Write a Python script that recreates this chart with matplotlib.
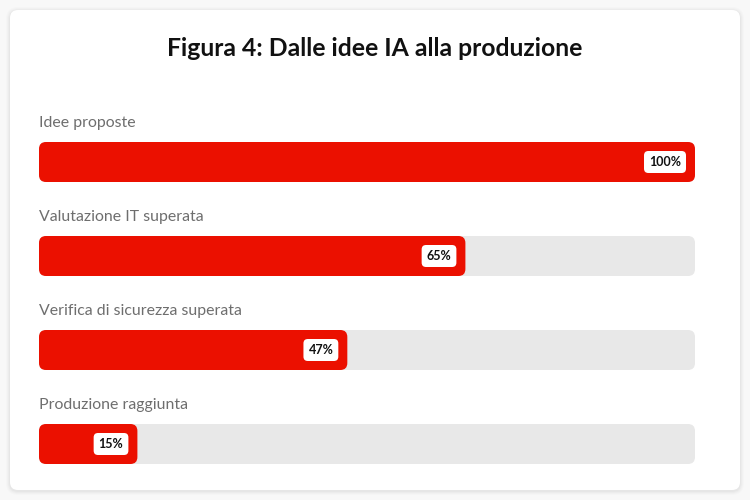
import matplotlib.pyplot as plt
from matplotlib.patches import FancyBboxPatch

categories = ['Idee proposte', 'Valutazione IT superata',
              'Verifica di sicurezza superata', 'Produzione raggiunta']
values = [100, 65, 47, 15]
title = 'Figura 4: Dalle idee IA alla produzione'

red = '#eb1000'
track = '#e8e8e8'
label_col = '#6e6e6e'

plt.rcParams['font.family'] = ['Lato', 'DejaVu Sans']

fig = plt.figure(figsize=(7.5, 5), dpi=100)
fig.patch.set_facecolor('#f8f8f8')

# background card (pixel coords)
bg = fig.add_axes([0, 0, 1, 1])
bg.set_xlim(0, 750)
bg.set_ylim(500, 0)
bg.axis('off')
for i, a in enumerate([0.025, 0.02, 0.015, 0.01]):
    d = i + 1
    bg.add_patch(FancyBboxPatch((10 - d, 10 - d + 1), 730 + 2 * d, 480 + 2 * d,
                                boxstyle='round,pad=0,rounding_size=%d' % (8 + d),
                                fc='black', ec='none', alpha=a))
bg.add_patch(FancyBboxPatch((10, 10), 730, 480, boxstyle='round,pad=0,rounding_size=8',
                            fc='white', ec='none'))
bg.text(375, 48, title, ha='center', va='center', fontsize=17.8,
        fontweight='bold', color='#111111')

# bars axes: x from 39 to 695 px, rows pitched 94 px
W, H = 750, 500
pitch = 94
bar_h_px = 40
top0 = 142
ax = fig.add_axes([39 / W, 1 - (top0 + 3 * pitch + bar_h_px) / H,
                   656 / W, (3 * pitch + bar_h_px) / H])
ax.axis('off')
ax.set_xlim(0, 100)
bh = bar_h_px / pitch
ax.set_ylim(3 + bh / 2, -bh / 2)

px_x = 100 / 656
px_y = 1 / pitch
r = 7 * px_x
aspect = px_y / px_x

for i, (cat, v) in enumerate(zip(categories, values)):
    y0 = i - bh / 2
    ax.add_patch(FancyBboxPatch((0, y0), 100, bh,
                                boxstyle='round,pad=0,rounding_size=%f' % r,
                                mutation_aspect=aspect, fc=track, ec='none'))
    ax.add_patch(FancyBboxPatch((0, y0), v, bh,
                                boxstyle='round,pad=0,rounding_size=%f' % r,
                                mutation_aspect=aspect, fc=red, ec='none'))
    ax.text(0, y0 - 19 * px_y, cat, ha='left', va='center', fontsize=11.4,
            color=label_col, clip_on=False)
    ax.annotate(f'{v}%', xy=(v, i), xytext=(-14, 0), textcoords='offset pixels',
                ha='right', va='center', fontsize=9, fontweight='bold', color='#111111',
                bbox=dict(boxstyle='round,pad=0.4,rounding_size=0.35', fc='white', ec='none'))

fig.savefig('out.png', dpi=100, facecolor=fig.get_facecolor())
